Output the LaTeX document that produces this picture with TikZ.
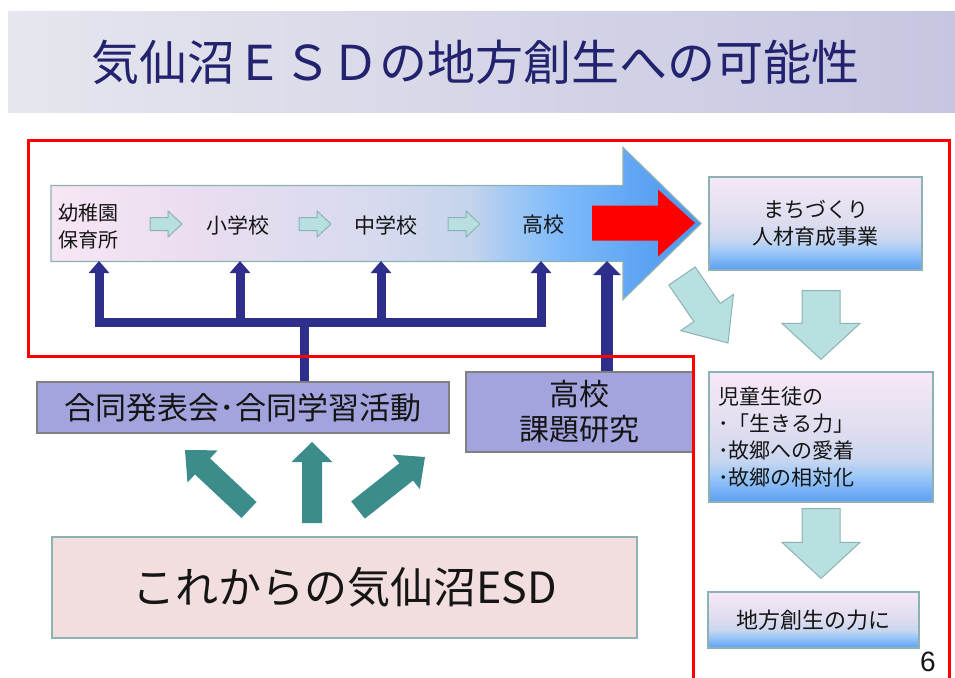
\documentclass[tikz,border=0pt]{standalone}
\usepackage{fontspec}
\setmainfont{Liberation Sans}
\newfontfamily\jp{Noto Sans CJK JP}
\usetikzlibrary{arrows.meta,calc}
\definecolor{titleL}{HTML}{E6E6EE}
\definecolor{titleM}{HTML}{DCDCEA}
\definecolor{titleR}{HTML}{C6C6E2}
\definecolor{titletext}{HTML}{22226E}
\definecolor{ba1}{HTML}{F7E6F4}
\definecolor{ba2}{HTML}{EADDF0}
\definecolor{ba3}{HTML}{D6DAEE}
\definecolor{ba4}{HTML}{C4D4EC}
\definecolor{ba5}{HTML}{A0C8F4}
\definecolor{ba6}{HTML}{7EBAFA}
\definecolor{ba7}{HTML}{5EA4F4}
\definecolor{ba8}{HTML}{4F96EC}
\definecolor{bx1}{HTML}{F7E8F6}
\definecolor{bx2}{HTML}{DCDCEF}
\definecolor{bx3}{HTML}{C8D6F0}
\definecolor{bx4}{HTML}{9CC8F8}
\definecolor{bx5}{HTML}{5A9EF4}
\definecolor{edge}{HTML}{8CB2B4}
\definecolor{lcyan}{HTML}{B9E0E0}
\definecolor{navy}{HTML}{2E2F8A}
\definecolor{teal2}{HTML}{3D8C8C}
\definecolor{lav}{HTML}{A3A3DE}
\definecolor{pinkbox}{HTML}{F2DEDE}
\definecolor{redline}{HTML}{FF0000}
\definecolor{txt}{HTML}{151515}
\pgfdeclarehorizontalshading{bigarrowshade}{100bp}{color(0bp)=(ba1); color(25bp)=(ba1); color(36.5bp)=(ba2); color(50.3bp)=(ba3); color(57.3bp)=(ba4); color(60.4bp)=(ba5); color(64.2bp)=(ba6); color(70.4bp)=(ba7); color(75bp)=(ba8); color(100bp)=(ba8)}
\pgfdeclareverticalshading{boxshade}{100bp}{color(0bp)=(bx5); color(25bp)=(bx5); color(35bp)=(bx4); color(41bp)=(bx3); color(50bp)=(bx2); color(75bp)=(bx1); color(100bp)=(bx1)}
% block arrow: [style]{start}{end}{shaft half width}{head half width}{head length}
\newcommand\blockarrow[6][]{%
  \coordinate (bah) at ($(#3)!#6!(#2)$);
  \path[#1] ($(#2)!#4!90:(#3)$) -- ($(bah)!#4!90:(#3)$) -- ($(bah)!#5!90:(#3)$) -- (#3)
    -- ($(bah)!#5!-90:(#3)$) -- ($(bah)!#4!-90:(#3)$) -- ($(#2)!#4!-90:(#3)$) -- cycle;}
\begin{document}
\begin{tikzpicture}[x=1pt,y=-1pt,
  lbox/.style={draw=edge, line width=1.2pt, shading=boxshade, inner sep=0pt},
  lightarr/.style={fill=lcyan, draw=edge, line width=1pt},
  tealarr/.style={fill=teal2},
  navybar/.style={draw=navy, line width=9pt},
  navytip/.style={-{Triangle[width=20pt,length=12pt]}},
  jtxt/.style={text=txt, inner sep=0pt}]
\useasboundingbox (0,0) rectangle (955,677);
\fill[white] (0,0) rectangle (955,677);
% title band
\shade[left color=titleL, middle color=titleM, right color=titleR] (8,12) rectangle (955,112);
\node[text=titletext, inner sep=0pt, font=\jp\fontsize{48pt}{50pt}\selectfont] (title) at (475,62) {気仙沼ＥＳＤの地方創生への可能性};

% big gradient arrow
\coordinate (BA0) at (51,223.5);
\coordinate (BA1) at (701,223.5);
\blockarrow[shading=bigarrowshade, draw=edge, line width=1.2pt]{BA0}{BA1}{38pt}{76pt}{78pt}

% school stage labels
\node[jtxt, align=center, font=\jp\fontsize{20pt}{27pt}\selectfont] (yo) at (88,226) {幼稚園\\保育所};
\node[jtxt, font=\jp\fontsize{21pt}{24pt}\selectfont] (sho) at (238,225) {小学校};
\node[jtxt, font=\jp\fontsize{21pt}{24pt}\selectfont] (chu) at (386,225) {中学校};
\node[jtxt, font=\jp\fontsize{21pt}{24pt}\selectfont] (ko) at (543,225) {高校};

% small arrows between stages
\coordinate (s1a) at (150,224); \coordinate (s1b) at (182,224);
\coordinate (s2a) at (299,224); \coordinate (s2b) at (331,224);
\coordinate (s3a) at (448,224); \coordinate (s3b) at (480,224);
\blockarrow[lightarr]{s1a}{s1b}{6.5pt}{13pt}{14pt}
\blockarrow[lightarr]{s2a}{s2b}{6.5pt}{13pt}{14pt}
\blockarrow[lightarr]{s3a}{s3b}{6.5pt}{13pt}{14pt}

% red arrow
\coordinate (ra0) at (592,223); \coordinate (ra1) at (695,223);
\blockarrow[fill=redline]{ra0}{ra1}{17.5pt}{33.5pt}{37pt}

% right column boxes
\node[lbox, minimum width=213pt, minimum height=93pt, align=center, text=txt,
  font=\jp\fontsize{21pt}{27pt}\selectfont] (md) at (815.5,223.5) {まちづくり\\人材育成事業};
\node[lbox, minimum width=224pt, minimum height=130pt, align=left, text width=206pt, text=txt,
  font=\jp\fontsize{21pt}{26.7pt}\selectfont] (jd) at (821,437) {児童生徒の\\･「生きる力」\\･故郷への愛着\\･故郷の相対化};
\node[lbox, minimum width=211pt, minimum height=56pt, text=txt,
  font=\jp\fontsize{22pt}{26pt}\selectfont] (ch) at (813.5,620) {地方創生の力に};
\node[text=txt, inner sep=0pt, font=\fontsize{28pt}{30pt}\selectfont] (pg) at (928,662) {6};

% light arrows on the right
\coordinate (d1a) at ($(md.south)+(5.5,20)$); \coordinate (d1b) at ($(jd.north)+(0,-12)$);
\blockarrow[lightarr]{d1a}{d1b}{19pt}{39pt}{36pt}
\coordinate (d2a) at ($(jd.south)+(0,6)$); \coordinate (d2b) at ($(ch.north)+(7.5,-13)$);
\blockarrow[lightarr]{d2a}{d2b}{19pt}{39pt}{36pt}
\coordinate (dga) at (682,276); \coordinate (dgb) at (728,343);
\blockarrow[lightarr]{dga}{dgb}{16pt}{32pt}{37pt}

% lower left boxes
\node[draw=black!50, line width=2pt, fill=lav, minimum width=412pt, minimum height=51pt, inner sep=0pt,
  text=txt, font=\jp\fontsize{31pt}{33pt}\selectfont] (gd) at (243,407.5) {合同発表会･合同学習活動};
\node[draw=black!50, line width=2pt, fill=lav, minimum width=227pt, minimum height=80pt, inner sep=0pt,
  align=center, text=txt, font=\jp\fontsize{30pt}{35pt}\selectfont] (kk) at (579.5,412) {高校\\課題研究};
\node[draw=edge, line width=1.5pt, fill=pinkbox, minimum width=585pt, minimum height=101pt, inner sep=0pt,
  text=txt, font=\jp\fontsize{43pt}{46pt}\selectfont] (ko2) at (344.5,587.5) {これからの気仙沼ESD};

% teal arrows
\coordinate (tua) at (312,523); \coordinate (tub) at (312,442);
\blockarrow[tealarr]{tua}{tub}{10pt}{20.5pt}{20pt}
\coordinate (tla) at (249,510); \coordinate (tlb) at (185,450);
\blockarrow[tealarr]{tla}{tlb}{11pt}{22pt}{24pt}
\coordinate (tra) at (358,510); \coordinate (trb) at (425,457);
\blockarrow[tealarr]{tra}{trb}{11pt}{22pt}{24pt}

% navy connectors
\coordinate (t1) at (99,261); \coordinate (t2) at (240,261);
\coordinate (t3) at (381,261); \coordinate (t4) at (541,261);
\coordinate (j1) at (99,322); \coordinate (j2) at (240,322);
\coordinate (j3) at (381,322); \coordinate (j4) at (541,322);
\coordinate (j0) at (304,322);
\coordinate (t5) at (607,261);
\draw[navybar, {Triangle[width=20pt,length=12pt]}-{Triangle[width=20pt,length=12pt]}] (t1) -- (j1) -- (j4) -- (t4);
\draw[navybar, navytip] (j2) -- (t2);
\draw[navybar, navytip] (j3) -- (t3);
\draw[navybar] (j0) -- (gd.north -| j0);
\draw[draw=navy, line width=12pt, -{Triangle[width=27pt,length=14pt]}] (kk.north -| t5) -- (t5);

% red frame
\draw[redline, line width=3pt] (693,680) -- (693,356) -- (28,356) -- (28,140) -- (949,140) -- (949,680);
\end{tikzpicture}
\end{document}
